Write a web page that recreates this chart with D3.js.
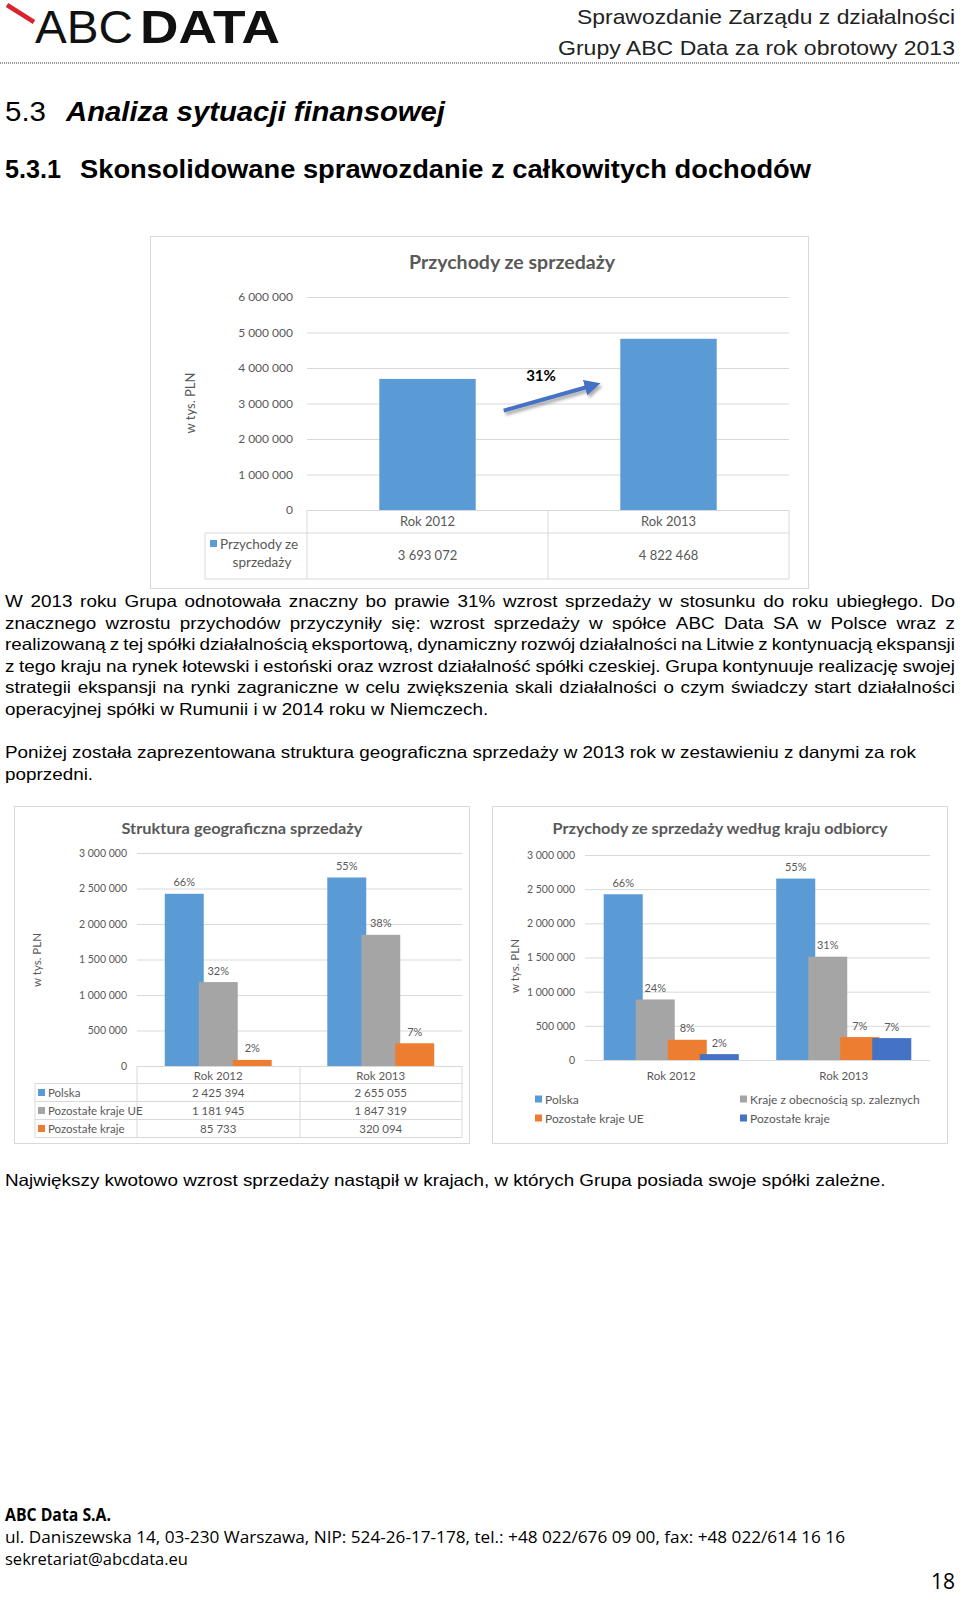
<!DOCTYPE html>
<html><head><meta charset="utf-8">
<script src="https://cdn.jsdelivr.net/npm/d3@7"></script>
<style>body{margin:0;background:#fff} svg{display:block}</style>
</head><body><svg id="page" width="960" height="1597"></svg>
<script>
// ---------- DATA ----------
const years = ["Rok 2012", "Rok 2013"];
const revenue = [3693072, 4822468];
const revenueTicks = [0, 1000000, 2000000, 3000000, 4000000, 5000000, 6000000];
const revenueSeries = "Przychody ze sprzedaży";
const growthLabel = "31%";

const geoSeriesNames = ["Polska", "Pozostałe kraje UE", "Pozostałe kraje"];
const geoPolska = [2425394, 2655055];
const geoUE = [1181945, 1847319];
const geoOther = [85733, 320094];
const geoPolskaPct = ["66%", "55%"];
const geoUEPct = ["32%", "38%"];
const geoOtherPct = ["2%", "7%"];

const custSeriesNames = ["Polska", "Kraje z obecnością sp. zaleznych", "Pozostałe kraje UE", "Pozostałe kraje"];
const custPolska = [2425394, 2655055];
const custSubs = [886000, 1512000];
const custUE = [295945, 335319];
const custOther = [85733, 320094];
const custPolskaPct = ["66%", "55%"];
const custSubsPct = ["24%", "31%"];
const custUEPct = ["8%", "7%"];
const custOtherPct = ["2%", "7%"];
const smallTicks = [0, 500000, 1000000, 1500000, 2000000, 2500000, 3000000];

const para1 = [
 "W 2013 roku Grupa odnotowała znaczny bo prawie 31% wzrost sprzedaży w stosunku do roku ubiegłego. Do",
 "znacznego wzrostu przychodów przyczyniły się: wzrost sprzedaży w spółce ABC Data SA w Polsce wraz z",
 "realizowaną z tej spółki działalnością eksportową, dynamiczny rozwój działalności na Litwie z kontynuacją ekspansji",
 "z tego kraju na rynek łotewski i estoński oraz wzrost działalność spółki czeskiej. Grupa kontynuuje realizację swojej",
 "strategii ekspansji na rynki zagraniczne w celu zwiększenia skali działalności o czym świadczy start działalności",
 "operacyjnej spółki w Rumunii i w 2014 roku w Niemczech."
];
const para2 = [
 "Poniżej została zaprezentowana struktura geograficzna sprzedaży w 2013 rok w zestawieniu z danymi za rok",
 "poprzedni."
];
const para3 = ["Największy kwotowo wzrost sprzedaży nastąpił w krajach, w których Grupa posiada swoje spółki zależne."];

// ---------- STYLE ----------
const FONT_DOC = "'Liberation Sans Narrow','Arial Narrow','Liberation Sans',Arial,sans-serif";
const FONT_CHART = "Lato,'Open Sans','Noto Sans',sans-serif";
const TXT = "#595959";
const GRID = "#d9d9d9";
const C_BLUE = "#5B9BD5", C_GREY = "#A5A5A5", C_ORANGE = "#ED7D31", C_DBLUE = "#4472C4";

const fmt = d3.formatLocale({decimal: ",", thousands: " ", grouping: [3], currency: ["", ""]}).format(",d");

const svg = d3.select("#page");
svg.append("rect").attr("width", 960).attr("height", 1597).attr("fill", "#fff");

const defs = svg.append("defs");
const f = defs.append("filter").attr("id", "shadow").attr("x", "-20%").attr("y", "-50%").attr("width", "140%").attr("height", "200%");
f.append("feDropShadow").attr("dx", 2).attr("dy", 3).attr("stdDeviation", 1.5).attr("flood-color", "#777").attr("flood-opacity", 0.6);
defs.append("marker").attr("id", "arrowhead").attr("viewBox", "0 0 10 10").attr("refX", 6).attr("refY", 5)
  .attr("markerWidth", 4).attr("markerHeight", 4).attr("orient", "auto")
  .append("path").attr("d", "M0,0 L10,5 L0,10 z").attr("fill", C_DBLUE);

function txt(g, x, y, s, o = {}) {
  const t = g.append("text").attr("x", x).attr("y", y).text(s)
    .attr("font-family", o.font || FONT_CHART).attr("font-size", o.size || 12)
    .attr("fill", o.fill || TXT).attr("text-anchor", o.anchor || "start")
    .attr("dominant-baseline", "central");
  if (o.weight) t.attr("font-weight", o.weight);
  if (o.style) t.attr("font-style", o.style);
  if (o.len) t.attr("textLength", o.len).attr("lengthAdjust", "spacingAndGlyphs");
  if (o.rotate) t.attr("transform", `rotate(${o.rotate},${x},${y})`);
  return t;
}
function measure(s, font, size, weight) {
  const t = svg.append("text").attr("font-family", font).attr("font-size", size)
    .attr("font-weight", weight || "normal").attr("style", "white-space:pre").text(s);
  const w = t.node().getComputedTextLength(); t.remove(); return w;
}

// ---------- HEADER ----------
const hdr = svg.append("g");
hdr.append("line").attr("x1", 7).attr("y1", 5).attr("x2", 34).attr("y2", 22)
  .attr("stroke", "#D9232D").attr("stroke-width", 4.5);
hdr.append("text").attr("x", 35).attr("y", 43).attr("font-family", "'Liberation Sans',Arial,sans-serif")
  .attr("font-size", 47).attr("textLength", 98).attr("lengthAdjust", "spacingAndGlyphs").attr("fill", "#111").text("ABC");
hdr.append("text").attr("x", 140).attr("y", 43).attr("font-family", "'Liberation Sans',Arial,sans-serif")
  .attr("font-weight", "bold").attr("font-size", 47).attr("textLength", 140).attr("lengthAdjust", "spacingAndGlyphs").attr("fill", "#111").text("DATA");
txt(hdr, 955, 16, "Sprawozdanie Zarządu z działalności", {font: FONT_DOC, size: 21, fill: "#222", anchor: "end", len: 378});
txt(hdr, 955, 47, "Grupy ABC Data za rok obrotowy 2013", {font: FONT_DOC, size: 21, fill: "#222", anchor: "end", len: 397});
hdr.append("line").attr("x1", 0).attr("x2", 960).attr("y1", 63).attr("y2", 63)
  .attr("stroke", "#9a9a9a").attr("stroke-width", 2).attr("stroke-dasharray", "1,1");

txt(hdr, 5, 111, "5.3", {font: FONT_DOC, size: 28, fill: "#000", len: 41});
txt(hdr, 66, 111, "Analiza sytuacji finansowej", {font: FONT_DOC, size: 28, fill: "#000", weight: "bold", style: "italic", len: 379});
txt(hdr, 5, 169, "5.3.1", {font: FONT_DOC, size: 25, fill: "#000", weight: "bold", len: 56});
txt(hdr, 80, 169, "Skonsolidowane sprawozdanie z całkowitych dochodów", {font: FONT_DOC, size: 25, fill: "#000", weight: "bold", len: 731});

// ---------- PARAGRAPHS ----------
const PSIZE = 16.5;
const pg = svg.append("g").attr("font-family", FONT_DOC).attr("font-size", PSIZE).attr("fill", "#000");
const spW = measure("a a", FONT_DOC, PSIZE) - measure("aa", FONT_DOC, PSIZE);
function natural(line) { const ws = line.split(" ").map(w => measure(w, FONT_DOC, PSIZE)); return d3.sum(ws) + spW * (ws.length - 1); }
const S = 911 / natural(para2[0]);
function drawLine(line, yc, justify, W = 950) {
  const words = line.split(" ");
  let ws = words.map(w => measure(w, FONT_DOC, PSIZE) * S);
  let gap = spW * S;
  if (justify) {
    gap = (W - d3.sum(ws)) / (words.length - 1);
    if (gap < spW * S * 0.7) {
      const k = (W - spW * S * 0.7 * (words.length - 1)) / d3.sum(ws);
      ws = ws.map(w => w * k); gap = spW * S * 0.7;
    }
  }
  let x = 5;
  words.forEach((w, i) => {
    pg.append("text").attr("x", x).attr("y", yc).attr("dominant-baseline", "central")
      .attr("textLength", ws[i]).attr("lengthAdjust", "spacingAndGlyphs").text(w);
    x += ws[i] + gap;
  });
}
para1.forEach((l, i) => drawLine(l, 601 + i * 21.6, i < para1.length - 1));
para2.forEach((l, i) => drawLine(l, 752 + i * 21.6, false));
para3.forEach((l, i) => drawLine(l, 1180, false));

// ---------- CHART 1 ----------
(function () {
  const g = svg.append("g").attr("font-family", FONT_CHART);
  g.append("rect").attr("x", 150.5).attr("y", 236.5).attr("width", 658).attr("height", 352)
    .attr("fill", "#fff").attr("stroke", GRID);
  txt(g, 512, 262, "Przychody ze sprzedaży", {size: 18, weight: "bold", anchor: "middle", len: 206});
  const y = d3.scaleLinear().domain([0, 6000000]).range([510, 297]);
  const x = d3.scaleBand().domain(years).range([307, 789]).paddingInner(0.6).paddingOuter(0.3);
  const ax = g.append("g").attr("transform", "translate(307,0)")
    .call(d3.axisLeft(y).tickValues(revenueTicks).tickSize(-(789 - 307)).tickPadding(14).tickFormat(fmt));
  ax.select(".domain").remove();
  ax.selectAll("line").attr("stroke", GRID);
  ax.selectAll("text").attr("fill", TXT).attr("font-size", 12).attr("font-family", FONT_CHART);
  txt(g, 190, 403, "w tys. PLN", {size: 13, anchor: "middle", rotate: -90});
  g.selectAll("rect.bar").data(revenue).join("rect").attr("class", "bar")
    .attr("x", (d, i) => x(years[i])).attr("width", x.bandwidth())
    .attr("y", d => y(d)).attr("height", d => y(0) - y(d)).attr("fill", C_BLUE);
  // table
  const tb = g.append("g").attr("stroke", GRID).attr("stroke-width", 1);
  [307, 548, 789].forEach(v => tb.append("line").attr("x1", v).attr("x2", v).attr("y1", 510).attr("y2", 579));
  tb.append("line").attr("x1", 205).attr("x2", 205).attr("y1", 533).attr("y2", 579);
  [533, 579].forEach(v => tb.append("line").attr("x1", 205).attr("x2", 789).attr("y1", v).attr("y2", v));
  years.forEach((c, i) => {
    txt(g, x(c) + x.bandwidth() / 2, 521, c, {size: 13, anchor: "middle"});
    txt(g, x(c) + x.bandwidth() / 2, 555, fmt(revenue[i]), {size: 13, anchor: "middle"});
  });
  g.append("rect").attr("x", 210).attr("y", 540).attr("width", 7).attr("height", 7).attr("fill", C_BLUE);
  txt(g, 220, 544, "Przychody ze", {size: 13.5});
  txt(g, 262, 562, "sprzedaży", {size: 13.5, anchor: "middle"});
  // growth arrow annotation
  const x1 = x(years[0]) + x.bandwidth() + 28, y1 = y(2800000);
  const x2 = x(years[1]) - 26, y2 = y(3520000);
  g.append("line").attr("x1", x1).attr("y1", y1).attr("x2", x2).attr("y2", y2)
    .attr("stroke", C_DBLUE).attr("stroke-width", 4).attr("marker-end", "url(#arrowhead)").attr("filter", "url(#shadow)");
  txt(g, (x1 + x2) / 2 - 8, y(3810000), growthLabel, {size: 15, weight: "bold", fill: "#000", anchor: "middle"});
})();

// ---------- generic clustered chart ----------
function clustered(cfg) {
  const g = svg.append("g").attr("font-family", FONT_CHART);
  g.append("rect").attr("x", cfg.frame[0] + 0.5).attr("y", cfg.frame[1] + 0.5)
    .attr("width", cfg.frame[2] - cfg.frame[0]).attr("height", cfg.frame[3] - cfg.frame[1])
    .attr("fill", "#fff").attr("stroke", GRID);
  txt(g, cfg.titleX, cfg.titleY, cfg.title, {size: 16, weight: "bold", anchor: "middle", len: cfg.titleLen});
  const y = d3.scaleLinear().domain([0, 3000000]).range(cfg.yRange);
  const x0 = d3.scaleBand().domain(years).range(cfg.xRange).paddingInner(cfg.pad).paddingOuter(cfg.pad / 2);
  const x1 = d3.scaleBand().domain(cfg.names).range([0, x0.bandwidth()]).paddingInner(cfg.innerPad).paddingOuter(0);
  const color = d3.scaleOrdinal(cfg.names, cfg.colors);
  const ax = g.append("g").attr("transform", `translate(${cfg.xRange[0]},0)`)
    .call(d3.axisLeft(y).tickValues(smallTicks).tickSize(-(cfg.xRange[1] - cfg.xRange[0])).tickPadding(10).tickFormat(fmt));
  ax.select(".domain").remove();
  ax.selectAll("line").attr("stroke", GRID);
  ax.selectAll("text").attr("fill", TXT).attr("font-size", 10.5).attr("font-family", FONT_CHART);
  txt(g, cfg.ylabX, cfg.ylabY, "w tys. PLN", {size: 11.5, anchor: "middle", rotate: -90});
  const rows = [];
  cfg.names.forEach((n, si) => years.forEach((c, ci) => rows.push({n, c, v: cfg.values[si][ci], p: cfg.pcts[si][ci]})));
  g.selectAll("rect.bar").data(rows).join("rect").attr("class", "bar")
    .attr("x", d => x0(d.c) + x1(d.n)).attr("width", x1.bandwidth())
    .attr("y", d => y(d.v)).attr("height", d => y(0) - y(d.v)).attr("fill", d => color(d.n));
  g.selectAll("text.pct").data(rows).join("text").attr("class", "pct")
    .attr("x", d => x0(d.c) + x1(d.n) + x1.bandwidth() / 2).attr("y", d => y(d.v) - 12)
    .attr("text-anchor", "middle").attr("dominant-baseline", "central")
    .attr("font-size", 11).attr("fill", TXT).text(d => d.p);
  return {g, x0, y, color};
}

// ---------- CHART 2 ----------
(function () {
  const names = geoSeriesNames;
  const {g, x0, color} = clustered({
    frame: [14, 806, 469, 1143], title: "Struktura geograficzna sprzedaży", titleX: 242, titleY: 827, titleLen: 241,
    yRange: [1066, 853], xRange: [137, 462], pad: 0.342, innerPad: -0.147,
    names, colors: [C_BLUE, C_GREY, C_ORANGE],
    values: [geoPolska, geoUE, geoOther], pcts: [geoPolskaPct, geoUEPct, geoOtherPct],
    ylabX: 36, ylabY: 960
  });
  const rowsY = [1083.5, 1101.5, 1119.5, 1137.5];
  const tb = g.append("g").attr("stroke", GRID);
  [137, 300, 462].forEach(v => tb.append("line").attr("x1", v).attr("x2", v).attr("y1", 1066).attr("y2", 1137.5));
  tb.append("line").attr("x1", 35).attr("x2", 35).attr("y1", 1083.5).attr("y2", 1137.5);
  rowsY.forEach(v => tb.append("line").attr("x1", 35).attr("x2", 462).attr("y1", v).attr("y2", v));
  years.forEach(c => txt(g, x0(c) + x0.bandwidth() / 2, 1075, c, {size: 11.5, anchor: "middle"}));
  const vals = [geoPolska, geoUE, geoOther];
  names.forEach((n, i) => {
    const yc = (rowsY[i] + rowsY[i + 1]) / 2;
    g.append("rect").attr("x", 38).attr("y", yc - 3.5).attr("width", 7).attr("height", 7).attr("fill", color(n));
    txt(g, 48, yc, n, {size: 11.5});
    years.forEach((c, ci) => txt(g, x0(c) + x0.bandwidth() / 2, yc, fmt(vals[i][ci]), {size: 11.5, anchor: "middle"}));
  });
})();

// ---------- CHART 3 ----------
(function () {
  const names = custSeriesNames;
  const {g, x0, color} = clustered({
    frame: [492, 806, 947, 1143], title: "Przychody ze sprzedaży według kraju odbiorcy", titleX: 720, titleY: 827, titleLen: 335,
    yRange: [1060, 855], xRange: [585, 930], pad: 0.217, innerPad: -0.219,
    names, colors: [C_BLUE, C_GREY, C_ORANGE, C_DBLUE],
    values: [custPolska, custSubs, custUE, custOther], pcts: [custPolskaPct, custSubsPct, custUEPct, custOtherPct],
    ylabX: 514, ylabY: 966
  });
  years.forEach(c => txt(g, x0(c) + x0.bandwidth() / 2, 1075, c, {size: 11.5, anchor: "middle"}));
  const pos = [[535, 1099], [740, 1099], [535, 1118], [740, 1118]];
  names.forEach((n, i) => {
    g.append("rect").attr("x", pos[i][0]).attr("y", pos[i][1] - 3.5).attr("width", 7).attr("height", 7).attr("fill", color(n));
    txt(g, pos[i][0] + 10, pos[i][1], n, {size: 12});
  });
})();

// ---------- FOOTER ----------
const ft = svg.append("g");
const FONT_FOOT = "'Liberation Sans Narrow','Open Sans',Lato,sans-serif";
txt(ft, 5, 1514, "ABC Data S.A.", {font: FONT_FOOT, size: 17, weight: "bold", fill: "#000", len: 106});
txt(ft, 5, 1536, "ul. Daniszewska 14, 03-230 Warszawa, NIP: 524-26-17-178, tel.: +48 022/676 09 00, fax: +48 022/614 16 16", {font: FONT_FOOT, size: 17, fill: "#000", len: 840});
txt(ft, 5, 1558, "sekretariat@abcdata.eu", {font: FONT_FOOT, size: 17, fill: "#000", len: 183});
txt(ft, 955, 1581, "18", {font: FONT_FOOT, size: 21, fill: "#000", anchor: "end", len: 24});
</script>
</body></html>
